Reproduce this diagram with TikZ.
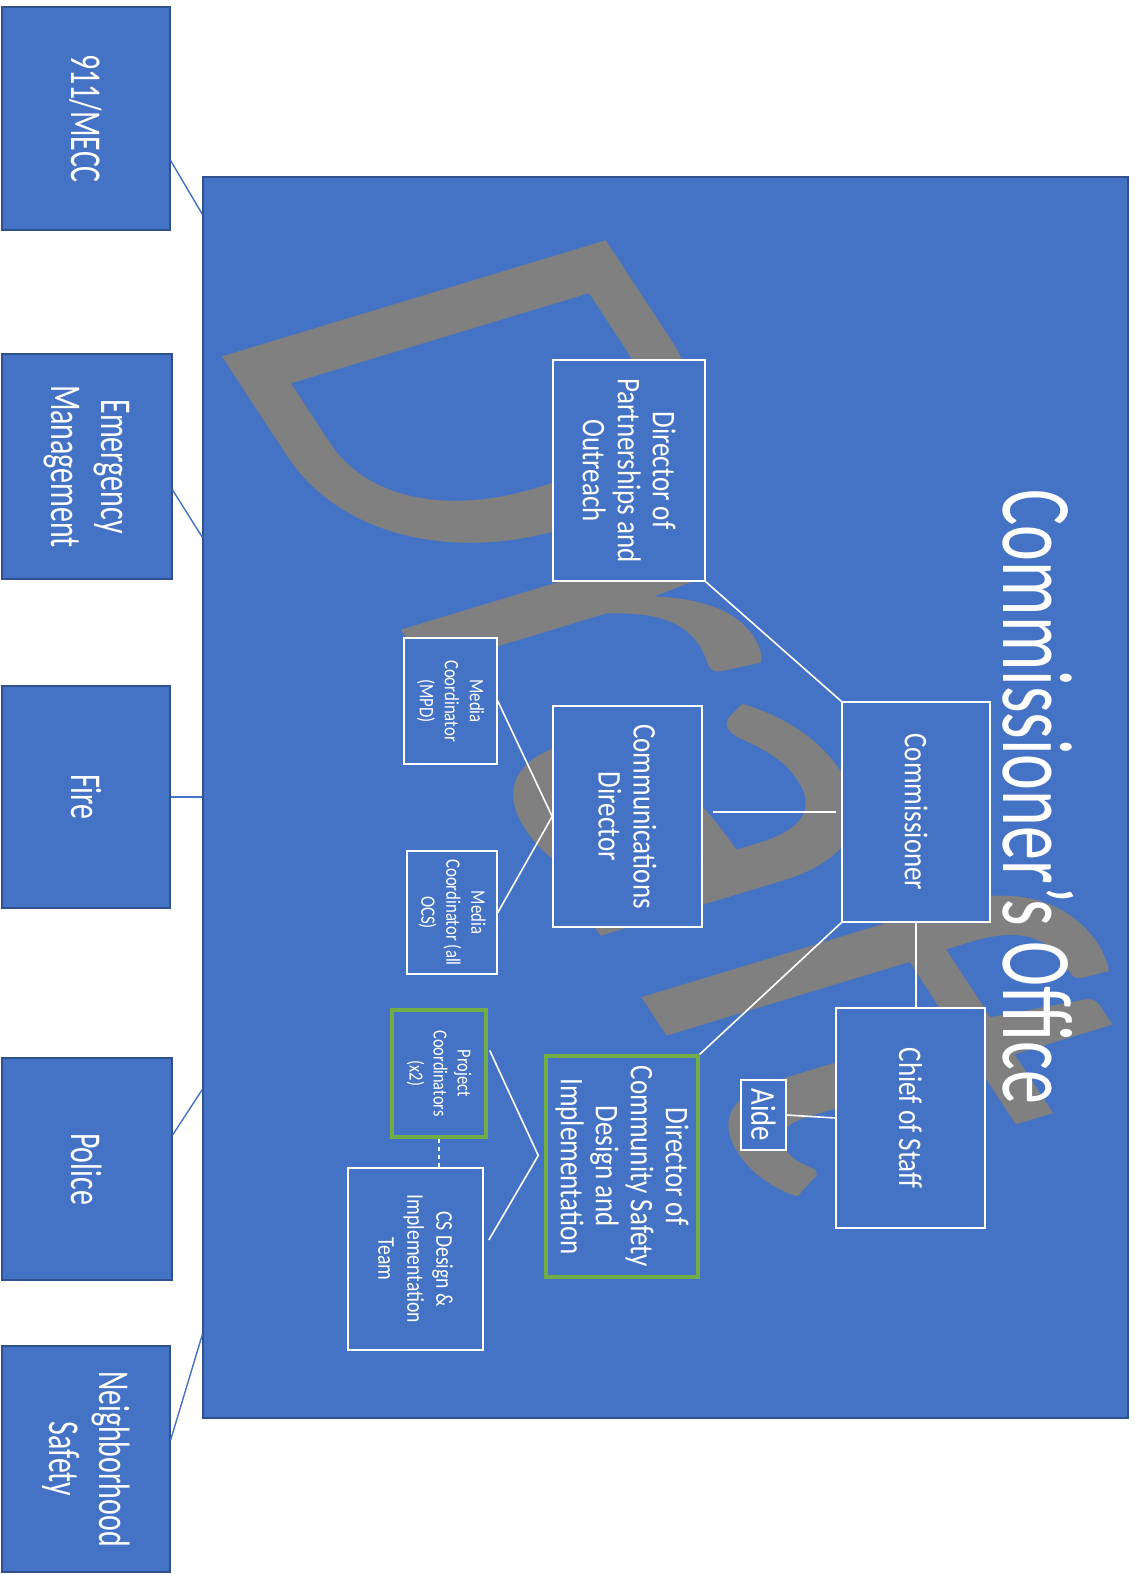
\documentclass[tikz,border=0pt]{standalone}
\usepackage{fontspec}
\setmainfont{Carlito}[FakeStretch=0.68]
\newfontfamily\boxfont{Carlito}[FakeStretch=0.82]
\newfontfamily\markfont{Carlito}
\usetikzlibrary{calc}
\definecolor{slideblue}{HTML}{4472C4}
\definecolor{edgeblue}{HTML}{2F528F}
\definecolor{leafgreen}{HTML}{70AD47}
\definecolor{markgray}{HTML}{808080}

\begin{document}
\begin{tikzpicture}[x=1pt, y=-1pt,
    unit/.style={rotate=-90, draw=edgeblue, fill=slideblue, line width=1.2pt, text=white,
      align=center, inner sep=0pt, font=\fontsize{44}{50}\selectfont},
    role/.style={rotate=-90, draw=white, fill=slideblue, line width=1.6pt, text=white,
      align=center, inner sep=0pt, font=\boxfont\fontsize{33}{35}\selectfont},
    minor/.style={font=\boxfont\fontsize{20.5}{25}\selectfont},
    greenrole/.style={draw=leafgreen, line width=3.5pt},
    wline/.style={draw=white, line width=1.6pt},
    bline/.style={draw=slideblue, line width=1.4pt}]
    \useasboundingbox (0,0) rectangle (1143,1574);

    \node[draw=edgeblue, fill=slideblue, line width=1.2pt, minimum width=925pt, minimum height=1241pt] (office) at (665.5,797.5) {};

    \begin{scope}[yscale=0.68]
        \node[rotate=-66, xscale=1.1, transform shape, anchor=base west, inner sep=0pt, text=markgray,
          font=\markfont\fontsize{655}{655}\selectfont] (draft) at (202,480) {Draf\kern-0.08em t};
    \end{scope}

    \node[unit, minimum width=223pt, minimum height=168pt] (mecc)    at (86,118.5) {911/MECC};
    \node[unit, minimum width=225pt, minimum height=170pt] (emgmt)   at (87,466.5) {Emergency\\Management};
    \node[unit, minimum width=222pt, minimum height=168pt] (fire)    at (86,797)   {Fire};
    \node[unit, minimum width=222pt, minimum height=170pt] (police)  at (87,1169)  {Police};
    \node[unit, minimum width=226pt, minimum height=168pt] (nsafety) at (86,1459)  {Neighborhood\\Safety};

    \node[role, minimum width=221pt, minimum height=152pt] (part)    at (629,470.5)  {Director of\\Partnerships and\\Outreach};
    \node[role, minimum width=220pt, minimum height=148pt] (comm)    at (916,812)    {Commissioner};
    \node[role, minimum width=221pt, minimum height=149pt] (commdir) at (627.5,816.5) {Communications\\Director};
    \node[role, minimum width=220pt, minimum height=149pt] (chief)   at (910.5,1118) {Chief of Staff};
    \node[role, minimum width=70pt, minimum height=45pt, font=\boxfont\fontsize{35}{35}\selectfont] (aide) at (763.5,1115) {Aide};
    \node[role, greenrole, minimum width=221pt, minimum height=152pt] (csd) at (622,1166.5) {Director of\\Community Safety\\Design and\\Implementation};
    \node[role, minor, minimum width=126pt, minimum height=93pt] (mpd) at (450.5,701)   {Media\\Coordinator\\(MPD)};
    \node[role, minor, minimum width=123pt, minimum height=90pt] (ocs) at (452,912.5)   {Media\\Coordinator (all\\OCS)};
    \node[role, minor, greenrole, minimum width=127pt, minimum height=94pt, font=\boxfont\fontsize{20}{24}\selectfont] (pc) at (439,1073.5) {Project\\Coordinators\\(x2)};
    \node[role, minimum width=182pt, minimum height=135pt, font=\boxfont\fontsize{24}{29}\selectfont] (team) at (415.5,1259) {CS Design \&\\Implementation\\Team};

    \draw[bline] ($(mecc.north)+(0,42)$)      -- ($(office.north west)+(0,38)$);
    \draw[bline] ($(emgmt.north)+(0,23.5)$)   -- ($(office.north west)+(0,361)$);
    \draw[bline] (fire.north)                 -- (fire.north -| office.west);
    \draw[bline] ($(police.north)+(0,-34)$)   -- ($(office.north west)+(0,913)$);
    \draw[bline] ($(nsafety.north)+(0,-19)$)  -- ($(office.north west)+(0,1158)$);

    \draw[wline] (part.north east) -- (comm.south west);
    \draw[wline, shorten <=5pt, shorten >=10pt] (comm.south) -- (commdir.north |- comm.south);
    \draw[wline] (comm.south east) -- (csd.north west);
    \draw[wline] (comm.east) -- (comm.east |- chief.west);
    \draw[wline] (chief.south) -- (aide.north);
    \draw[wline] (mpd.north) -- (commdir.south) -- (ocs.north);
    \coordinate (fork) at ($(csd.south)+(-6,-11)$);
    \draw[wline] ($(pc.north)+(2,-23)$) -- (fork) -- ($(team.north)+(5,-19)$);
    \draw[wline, dash pattern=on 4pt off 4pt] (pc.east) -- (pc.east |- team.west);

    \node[rotate=-90, inner sep=0pt, text=white, font=\fontsize{100}{100}\selectfont] (title) at (1038,797) {Commissioner’s Office};
\end{tikzpicture}
\end{document}
